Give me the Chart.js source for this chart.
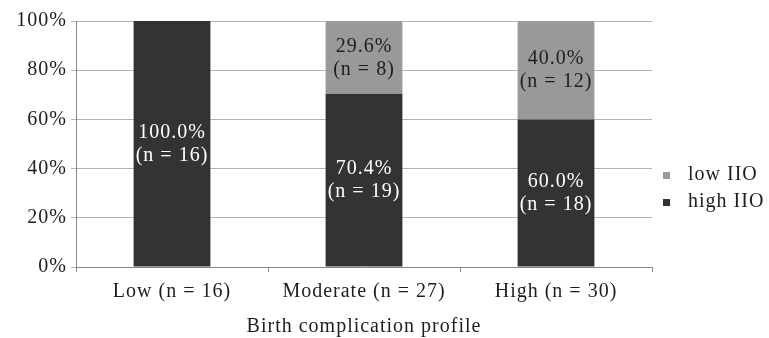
<!DOCTYPE html>
<html>
<head>
<meta charset="utf-8">
<script src="https://cdn.jsdelivr.net/npm/chart.js@4/dist/chart.umd.min.js"></script>
<style>
  html, body { margin: 0; padding: 0; background: #fff; }
  #wrap { width: 769px; height: 338px; }
</style>
</head>
<body>
<div id="wrap"><canvas id="BarGraph"></canvas></div>
<script>
// chart data
const categories = ["Low (n = 16)", "Moderate (n = 27)", "High (n = 30)"];
const highPct = [100.0, 70.4, 60.0];
const highN = [16, 19, 18];
const lowPct = [0, 29.6, 40.0];
const lowN = [0, 8, 12];
const yTicks = [0, 20, 40, 60, 80, 100];

const fontFamily = "'Liberation Serif', 'Times New Roman', serif";
const spacing = "1px"; // the original text is set a bit loose

// keep letter spacing on the context (canvas resize resets it)
const spacingPlugin = {
  id: "spacing",
  beforeLayout(chart) { chart.ctx.letterSpacing = spacing; },
  beforeDraw(chart) { chart.ctx.letterSpacing = spacing; }
};

// percentage + n labels in the middle of each segment
const segmentLabels = {
  id: "segmentLabels",
  afterDatasetsDraw(chart) {
    const ctx = chart.ctx;
    ctx.save();
    ctx.letterSpacing = spacing;
    ctx.font = "20px " + fontFamily;
    ctx.textAlign = "center";
    ctx.textBaseline = "middle";
    chart.data.datasets.forEach(function(dataset, i) {
      const meta = chart.getDatasetMeta(i);
      meta.data.forEach(function(bar, index) {
        const value = dataset.data[index];
        if (!value) return;
        const cy = (bar.y + bar.base) / 2;
        ctx.fillStyle = dataset.labelColor;
        ctx.fillText(value.toFixed(1) + "%", bar.x, cy - 11);
        ctx.fillText("(n = " + dataset.counts[index] + ")", bar.x, cy + 12);
      });
    });
    ctx.restore();
  }
};

// small square legend on the right, low IIO above high IIO
const sideLegend = {
  id: "sideLegend",
  afterDraw(chart) {
    const ctx = chart.ctx;
    ctx.save();
    ctx.letterSpacing = spacing;
    ctx.font = "20px " + fontFamily;
    ctx.textBaseline = "middle";
    ctx.textAlign = "left";
    const order = [1, 0];
    order.forEach(function(dsIndex, row) {
      const ds = chart.data.datasets[dsIndex];
      const y = 175 + row * 27;
      ctx.fillStyle = ds.backgroundColor;
      ctx.fillRect(663, y - 3, 7, 7);
      ctx.fillStyle = "#1e1e1e";
      ctx.fillText(ds.label, 688, y);
    });
    ctx.restore();
  }
};

const ctx = document.getElementById("BarGraph").getContext("2d");
const barGraph = new Chart(ctx, {
  type: "bar",
  data: {
    labels: categories,
    datasets: [
      {
        label: "high IIO",
        data: highPct,
        counts: highN,
        backgroundColor: "#333333",
        labelColor: "#ffffff",
        barPercentage: 0.4,
        categoryPercentage: 1.0
      },
      {
        label: "low IIO",
        data: lowPct,
        counts: lowN,
        backgroundColor: "#999999",
        labelColor: "#1e1e1e",
        barPercentage: 0.4,
        categoryPercentage: 1.0
      }
    ]
  },
  options: {
    responsive: true,
    maintainAspectRatio: false,
    animation: false,
    layout: { padding: { top: 21, right: 117, left: 0, bottom: 0 } },
    plugins: {
      legend: { display: false },
      tooltip: { enabled: false }
    },
    scales: {
      x: {
        stacked: true,
        afterFit(scale) { scale.height = 71; },
        grid: {
          offset: true,
          drawOnChartArea: false,
          color: "#888888",
          tickLength: 5
        },
        border: { color: "#888888" },
        ticks: {
          color: "#1e1e1e",
          padding: 9,
          font: { family: fontFamily, size: 20, lineHeight: 1.1 }
        },
        title: {
          display: true,
          text: "Birth complication profile",
          color: "#1e1e1e",
          padding: { top: 4, bottom: 0 },
          font: { family: fontFamily, size: 20, lineHeight: 1.1 }
        }
      },
      y: {
        stacked: true,
        min: 0,
        max: 100,
        afterBuildTicks(scale) {
          scale.ticks = yTicks.map(v => ({ value: v }));
        },
        afterFit(scale) { scale.width = 76; },
        grid: { color: "#b4b4b4", tickLength: 5 },
        border: { color: "#888888" },
        ticks: {
          color: "#1e1e1e",
          padding: 4,
          callback: v => v + "%",
          font: { family: fontFamily, size: 20 }
        }
      }
    }
  },
  plugins: [spacingPlugin, segmentLabels, sideLegend]
});
</script>
</body>
</html>
